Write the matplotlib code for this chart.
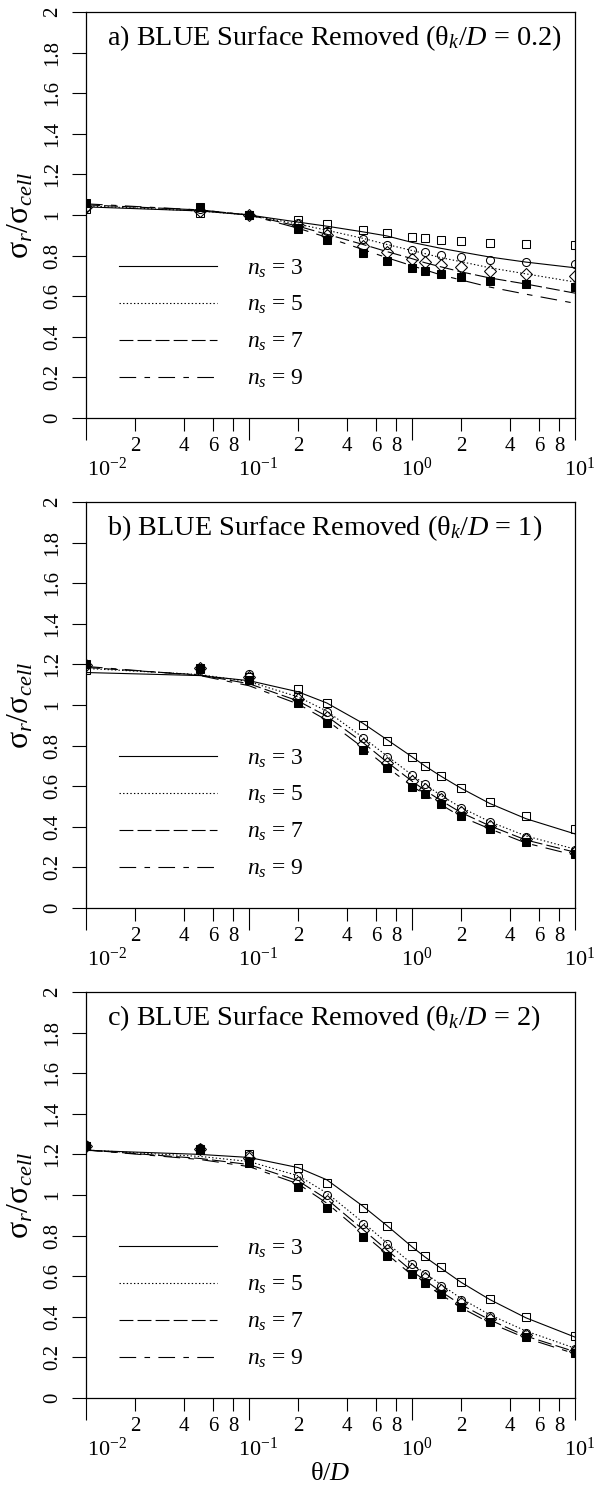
import numpy as np
import matplotlib.pyplot as plt
from matplotlib import transforms
from matplotlib.ticker import NullFormatter

plt.rcParams['font.family'] = 'Liberation Serif'
plt.rcParams['mathtext.fontset'] = 'custom'
plt.rcParams['mathtext.rm'] = 'Liberation Serif'
plt.rcParams['mathtext.it'] = 'Liberation Serif:italic'
plt.rcParams['lines.scale_dashes'] = False

# theta/D sample points
theta = [0.01, 0.05, 0.1, 0.2, 0.3, 0.5, 0.7, 1.0, 1.2, 1.5, 2, 3, 5, 10]
ns_values = [3, 5, 7, 9]
titles = ['a) BLUE Surface Removed (θ$_k$/$D$ = 0.2)',
          'b) BLUE Surface Removed (θ$_k$/$D$ = 1)',
          'c) BLUE Surface Removed (θ$_k$/$D$ = 2)']

# model curves (ns = 3, 5, 7, 9)
fit_a = [
    [1.04, 1.02, 1.0, 0.965, 0.945, 0.917, 0.897, 0.865, 0.852, 0.836, 0.818, 0.793, 0.768, 0.74],
    [1.045, 1.02, 1.0, 0.955, 0.925, 0.885, 0.855, 0.825, 0.81, 0.79, 0.77, 0.74, 0.71, 0.67],
    [1.05, 1.025, 1.0, 0.945, 0.905, 0.855, 0.82, 0.785, 0.765, 0.745, 0.72, 0.69, 0.66, 0.615],
    [1.055, 1.025, 1.0, 0.935, 0.89, 0.83, 0.79, 0.75, 0.73, 0.705, 0.68, 0.645, 0.61, 0.565],
]
fit_b = [
    [1.16, 1.145, 1.12, 1.065, 1.01, 0.91, 0.83, 0.745, 0.70, 0.65, 0.59, 0.515, 0.44, 0.365],
    [1.18, 1.15, 1.115, 1.04, 0.97, 0.84, 0.75, 0.655, 0.61, 0.555, 0.495, 0.425, 0.355, 0.29],
    [1.185, 1.148, 1.105, 1.02, 0.945, 0.815, 0.72, 0.625, 0.58, 0.53, 0.47, 0.405, 0.335, 0.275],
    [1.19, 1.145, 1.095, 1.005, 0.925, 0.79, 0.695, 0.60, 0.56, 0.51, 0.45, 0.39, 0.32, 0.26],
]
fit_c = [
    [1.22, 1.20, 1.185, 1.135, 1.075, 0.945, 0.85, 0.745, 0.695, 0.64, 0.57, 0.485, 0.395, 0.30],
    [1.222, 1.19, 1.165, 1.095, 1.01, 0.865, 0.765, 0.66, 0.615, 0.56, 0.49, 0.41, 0.33, 0.245],
    [1.222, 1.18, 1.15, 1.07, 0.98, 0.83, 0.73, 0.625, 0.58, 0.525, 0.46, 0.385, 0.305, 0.228],
    [1.222, 1.175, 1.14, 1.055, 0.96, 0.81, 0.71, 0.605, 0.56, 0.51, 0.445, 0.37, 0.295, 0.218],
]

# measured points (ns = 3, 5, 7, 9)
pts_a = [
    [1.03, 1.01, 1.0, 0.975, 0.955, 0.926, 0.91, 0.893, 0.885, 0.877, 0.872, 0.862, 0.857, 0.852],
    [1.04, 1.03, 1.0, 0.96, 0.92, 0.88, 0.852, 0.828, 0.818, 0.803, 0.793, 0.778, 0.768, 0.759],
    [1.04, 1.02, 1.0, 0.95, 0.90, 0.847, 0.818, 0.784, 0.77, 0.754, 0.744, 0.724, 0.709, 0.70],
    [1.06, 1.04, 1.0, 0.93, 0.877, 0.813, 0.773, 0.74, 0.724, 0.709, 0.695, 0.675, 0.66, 0.645],
]
pts_b = [
    [1.17, 1.175, 1.14, 1.078, 1.01, 0.901, 0.823, 0.744, 0.70, 0.65, 0.59, 0.522, 0.453, 0.389],
    [1.20, 1.18, 1.152, 1.05, 0.966, 0.837, 0.744, 0.655, 0.611, 0.557, 0.493, 0.424, 0.35, 0.286],
    [1.195, 1.18, 1.14, 1.03, 0.94, 0.81, 0.715, 0.625, 0.585, 0.535, 0.473, 0.405, 0.338, 0.276],
    [1.20, 1.18, 1.123, 1.01, 0.911, 0.778, 0.688, 0.596, 0.56, 0.512, 0.453, 0.389, 0.325, 0.266],
]
pts_c = [
    [1.24, 1.225, 1.20, 1.133, 1.06, 0.936, 0.847, 0.749, 0.70, 0.645, 0.571, 0.488, 0.40, 0.305],
    [1.245, 1.23, 1.195, 1.093, 1.0, 0.857, 0.759, 0.658, 0.61, 0.552, 0.483, 0.404, 0.32, 0.241],
    [1.24, 1.225, 1.18, 1.065, 0.97, 0.83, 0.73, 0.635, 0.59, 0.533, 0.466, 0.39, 0.31, 0.232],
    [1.24, 1.22, 1.16, 1.04, 0.936, 0.793, 0.70, 0.61, 0.566, 0.512, 0.448, 0.374, 0.30, 0.222],
]

yticks = [0, 0.2, 0.4, 0.6, 0.8, 1, 1.2, 1.4, 1.6, 1.8, 2]
ytick_labels = ['0', '0.2', '0.4', '0.6', '0.8', '1', '1.2', '1.4', '1.6', '1.8', '2']
decades = [0.01, 0.1, 1, 10]
decade_labels = ['$10^{-2}$', '$10^{-1}$', '$10^{0}$', '$10^{1}$']
minor_pos = [d * m for d in decades[:-1] for m in (2, 4, 6, 8)]
minor_labels = ['2', '4', '6', '8'] * 3

linestyles = ['-', (0, (1, 1.6)), (0, (10, 3)), (0, (12, 6, 4, 6))]
markers = [('s', 'none', 5.6), ('o', 'none', 5.8), ('D', 'none', 5.8), ('s', 'black', 5.2)]

fig = plt.figure(figsize=(5.95, 14.93), dpi=100)
W, H = 595, 1493
ax_left, ax_w, ax_h = 86, 489, 406
bottoms = [418, 908, 1398]

for k, (title, fits, pts) in enumerate(zip(titles, [fit_a, fit_b, fit_c], [pts_a, pts_b, pts_c])):
    ax = fig.add_axes([ax_left / W, 1 - bottoms[k] / H, ax_w / W, ax_h / H])
    lines = []
    for y, ls in zip(fits, linestyles):
        ln, = ax.plot(theta, y, color='black', lw=0.8, linestyle=ls)
        lines.append(ln)
    for y, (m, fc, ms) in zip(pts, markers):
        ax.plot(theta, y, linestyle='none', marker=m, mfc=fc, mec='black',
                mew=0.75, ms=ms)

    ax.set_xscale('log')
    ax.set_xlim(0.01, 10)
    ax.set_ylim(0, 2)
    ax.set_yticks(yticks)
    ax.set_yticklabels(ytick_labels, rotation=90, va='center')
    ax.set_xticks(decades)
    ax.xaxis.set_major_formatter(NullFormatter())
    ax.set_xticks(minor_pos, minor_labels, minor=True)
    ax.tick_params(axis='x', which='major', length=15.8, width=0.8)
    ax.tick_params(axis='x', which='minor', length=9.4, width=0.8, pad=4, labelsize=15)
    ax.tick_params(axis='y', length=10, width=0.8, pad=7, labelsize=15)
    for sp in ax.spines.values():
        sp.set_linewidth(0.9)

    for d, lab in zip(decades, decade_labels):
        dx = 1 if d == decades[0] else -11
        tr = transforms.blended_transform_factory(ax.transData, ax.transAxes) + \
            transforms.ScaledTranslation(dx / 100, -58 / 100, fig.dpi_scale_trans)
        ax.text(d, 0, lab, transform=tr, ha='left', va='baseline', fontsize=16)

    ax.text(0.043, 0.936, title, transform=ax.transAxes, fontsize=20.3,
            ha='left', va='center')
    ax.set_ylabel('σ$_r$/σ$_{cell}$', fontsize=23)
    ax.yaxis.set_label_coords(-0.104, 0.5)

    ax.legend(lines, ['$n_s$ = %d' % n for n in ns_values], loc='upper left',
              bbox_to_anchor=(0.067, 0.396), frameon=False, fontsize=17,
              handlelength=4.15, handletextpad=1.3, labelspacing=0.62,
              borderpad=0, borderaxespad=0)

    if k == 2:
        ax.set_xlabel('θ/$D$', fontsize=19)
        ax.xaxis.set_label_coords(0.5, -0.16)

fig.savefig('out.png', dpi=100)
